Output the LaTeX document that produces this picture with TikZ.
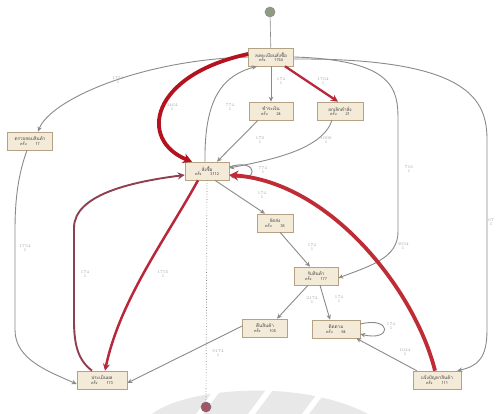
\documentclass[tikz,border=0pt]{standalone}
\usepackage{fontspec}
\newfontfamily\thai[Script=Thai]{Loma}
\usetikzlibrary{arrows.meta}
\definecolor{nodefill}{HTML}{F4EAD8}
\definecolor{nodeline}{HTML}{B5A184}
\definecolor{edgegrey}{HTML}{8A8A8A}
\definecolor{lbl}{HTML}{A6A6A6}
\definecolor{hotred}{HTML}{B3121E}
\definecolor{midred}{HTML}{B8283A}
\definecolor{mauve}{HTML}{8E3F50}
\definecolor{startfill}{HTML}{8F9C84}
\definecolor{endfill}{HTML}{A55466}
\tikzset{
  act/.style={draw=nodeline, fill=nodefill, line width=0.6pt, minimum width=45pt,
    minimum height=18pt, inner sep=0.5pt, align=center,
    font=\thai\fontsize{4.6}{5.2}\selectfont, text=black!75},
  flow/.style={draw=edgegrey, line width=0.9pt, -{Stealth[length=5pt,width=4.5pt]}},
  warm/.style={draw=midred, line width=2.3pt, -{Stealth[length=7pt,width=7pt]}},
  hot/.style={draw=hotred, line width=3.8pt, -{Stealth[length=9pt,width=10pt]}},
  lab/.style={font=\fontsize{4.2}{4.4}\selectfont, text=lbl, align=center, inner sep=0.5pt},
  terminal/.style={circle, minimum size=10pt, inner sep=0pt, line width=0.6pt}
}
\newcommand{\actlabel}[2]{#1\\[-0.6pt]{\fontsize{3.8}{4}\selectfont ครั้ง\hspace{9pt}#2}}
\begin{document}
\begin{tikzpicture}[x=1pt,y=-1pt]
\useasboundingbox (0,0) rectangle (497,414);
\fill[white] (0,0) rectangle (497,414);

% faint emblem along the bottom edge
\begin{scope}
  \fill[black!9] (152,414) .. controls (185,388) and (300,378) .. (368,414) -- cycle;
  \foreach \gx in {196,248,302} {
    \fill[white] (\gx,414) -- (\gx+24,382) -- (\gx+31,382) -- (\gx+7,414) -- cycle;
  }
\end{scope}

% terminals
\node[terminal, draw=black!45, fill=startfill] (start) at (270,12) {};
\node[terminal, draw=black!55, fill=endfill] (end) at (206,407) {};

% activities
\node[act] (A) at (271,57) {\actlabel{ลงทะเบียนสั่งซื้อ}{1754}};
\node[act] (B) at (30,141) {\actlabel{ตรวจสอบสินค้า}{17}};
\node[act, minimum width=44pt] (C) at (271,111) {\actlabel{ชำระเงิน}{24}};
\node[act, minimum width=46pt] (D) at (340,111) {\actlabel{ยกเลิกคำสั่ง}{21}};
\node[act, minimum width=44pt] (E) at (207,171) {\actlabel{สั่งซื้อ}{3112}};
\node[act, minimum width=36pt] (F) at (275,223) {\actlabel{จัดส่ง}{36}};
\node[act, minimum width=44pt] (G) at (316,276) {\actlabel{รับสินค้า}{177}};
\node[act] (H) at (265,328) {\actlabel{คืนสินค้า}{105}};
\node[act, minimum width=48pt] (I) at (336,329) {\actlabel{ติดตาม}{64}};
\node[act, minimum width=50pt] (J) at (102,380) {\actlabel{ประเมินผล}{173}};
\node[act, minimum width=48pt] (K) at (437,380) {\actlabel{แจ้งปัญหาสินค้า}{111}};

% start and end connectors
\draw[edgegrey, line width=0.6pt] (start) -- (A);
\draw[black!50, line width=0.7pt, dotted] (E.south) -- (end);

% grey connectors
\draw[flow] (A.west) .. controls (140,60) and (50,100) .. ([xshift=8pt]B.north);
\draw[flow] (A.south) -- (C.north);
\draw[flow] ([xshift=-2pt]E.north) .. controls (204,95) and (225,75) .. ([xshift=-14pt]A.south);
\draw[flow] ([xshift=-13pt]C.south) -- ([xshift=10pt]E.north);
\draw[flow] ([xshift=-8pt]D.south) .. controls (322,150) and (270,160) .. ([yshift=3pt]E.east);
\draw[flow] ([yshift=4pt]E.east) .. controls +(30,-10) and +(30,10) .. ([yshift=-4pt]E.east);
\draw[flow] (A.east) .. controls (395,60) and (398,90) .. (398,120)
  -- (398,232) .. controls (398,258) and (370,266) .. ([yshift=-2pt]G.east);
\draw[flow] ([yshift=-2pt]A.east) .. controls (470,58) and (487,100) .. (487,140)
  -- (487,330) .. controls (487,358) and (478,366) .. ([xshift=-4pt]K.north east);
\draw[flow] ([xshift=8pt]E.south) -- ([xshift=-10pt]F.north);
\draw[flow] ([xshift=5pt]F.south) -- ([xshift=-6pt]G.north);
\draw[flow] ([xshift=-8pt]G.south) -- ([xshift=12pt]H.north);
\draw[flow] ([xshift=4pt]G.south) -- ([xshift=-6pt]I.north);
\draw[flow] ([yshift=5pt]I.east) .. controls +(32,-8) and +(32,8) .. ([yshift=-5pt]I.east);
\draw[flow] ([xshift=4pt]K.north west) -- ([xshift=-4pt]I.south east);
\draw[flow] ([yshift=2pt]H.west) -- ([yshift=-3pt]J.east);
\draw[flow] ([xshift=-3pt]B.south) .. controls (18,175) and (15,200) .. (15,230)
  -- (15,330) .. controls (15,360) and (50,372) .. ([yshift=-4pt]J.west);

% weighted connectors
\draw[hot] ([yshift=3pt]A.west) .. controls (150,75) and (138,140) .. ([xshift=-15pt]E.north);
\draw[warm] ([xshift=14pt]A.south) -- ([xshift=-2pt]D.north);
\draw[warm, draw=mauve, line width=1.9pt] ([xshift=-10pt]J.north) .. controls (78,360) and (74,345) .. (74,320)
  -- (74,228) .. controls (74,195) and (130,182) .. ([yshift=-4pt]E.west);
\draw[warm, line width=2.5pt] ([xshift=-9pt]E.south) .. controls (165,240) and (120,300) .. ([xshift=3pt]J.north);
\draw[hot, draw=hotred!85!pink] ([xshift=-2pt]K.north) .. controls (415,290) and (330,182) .. ([yshift=-4pt]E.east);

% connector labels
\node[lab] (l1) at (118,80) {1754\\1};
\node[lab] (l2) at (172,107) {3464\\1};
\node[lab] (l3) at (281,81) {174\\1};
\node[lab] (l4) at (323,81) {1764\\1};
\node[lab] (l5) at (230,107) {774\\1};
\node[lab] (l6) at (260,140) {172\\1};
\node[lab] (l7) at (326,140) {1000\\1};
\node[lab] (l8) at (263,170) {774\\1};
\node[lab] (l9) at (409,169) {716\\1};
\node[lab] (l10) at (491,222) {67\\1};
\node[lab] (l11) at (262,195) {174\\1};
\node[lab] (l12) at (312,247) {174\\1};
\node[lab] (l13) at (312,300) {2174\\1};
\node[lab] (l14) at (339,299) {174\\1};
\node[lab] (l15) at (391,326) {174\\1};
\node[lab] (l16) at (405,352) {1044\\1};
\node[lab] (l17) at (403,246) {3034\\1};
\node[lab] (l18) at (218,353) {9174\\1};
\node[lab] (l19) at (25,248) {1754\\1};
\node[lab] (l20) at (85,274) {174\\1};
\node[lab] (l21) at (163,274) {1755\\1};
\end{tikzpicture}
\end{document}
